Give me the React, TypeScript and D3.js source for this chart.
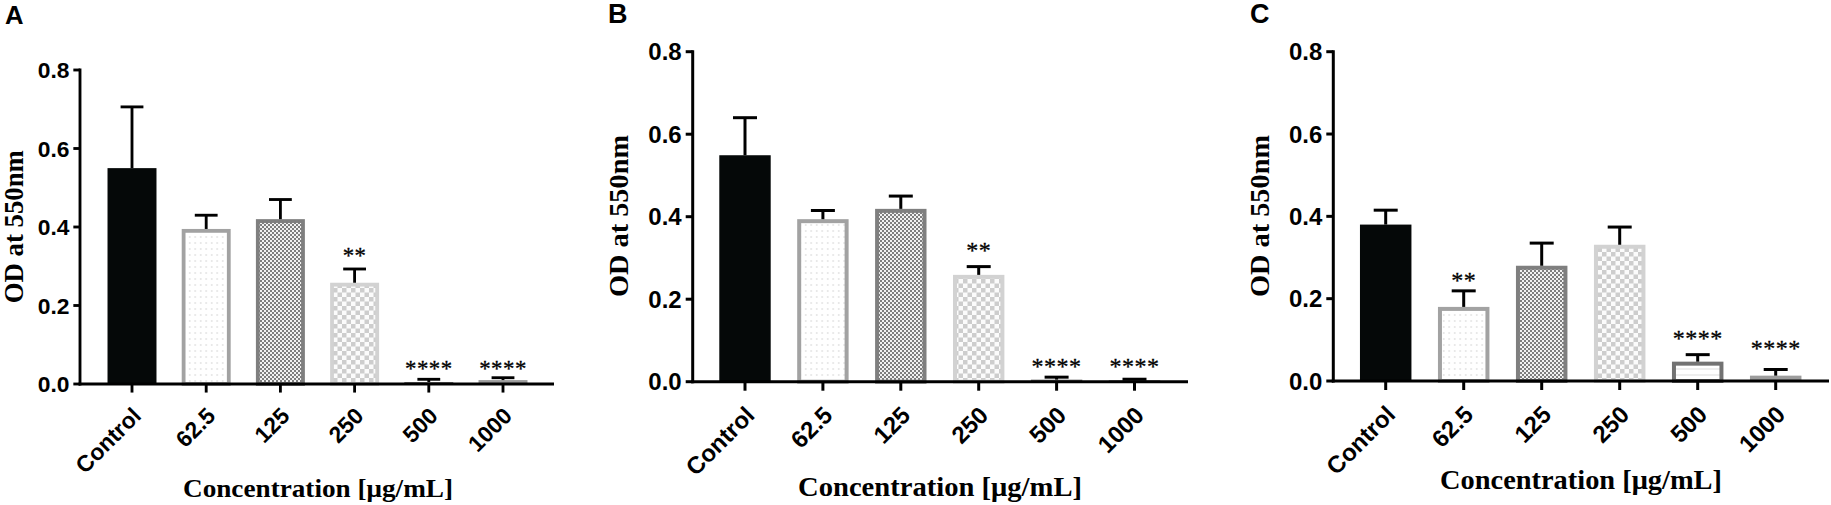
import React from "react";
import * as d3 from "d3";

const categories = ["Control", "62.5", "125", "250", "500", "1000"];
const yTickValues = [0, 0.2, 0.4, 0.6, 0.8];
const panelLetters = ["A", "B", "C"];

const meansA = [0.55, 0.395, 0.42, 0.258, 0.005, 0.01];
const errorsA = [0.156, 0.035, 0.05, 0.035, 0.007, 0.006];
const starsA = ["", "", "", "**", "****", "****"];
const starHeightsA = [0, 0, 0, 0.334, 0.047, 0.047];

const meansB = [0.549, 0.394, 0.419, 0.259, 0.005, 0.004];
const errorsB = [0.091, 0.021, 0.031, 0.02, 0.006, 0.002];
const starsB = ["", "", "", "**", "****", "****"];
const starHeightsB = [0, 0, 0, 0.327, 0.045, 0.045];

const meansC = [0.38, 0.18, 0.28, 0.331, 0.047, 0.013];
const errorsC = [0.035, 0.039, 0.055, 0.043, 0.017, 0.015];
const starsC = ["", "**", "", "", "****", "****"];
const starHeightsC = [0, 0.253, 0, 0, 0.112, 0.087];

const yTitle = "OD at 550nm";
const xTitle = "Concentration [μg/mL]";

const layouts = [
  { axisX: 80, axisEnd: 554, y0: 384, yTop: 70, tick0: 132, tick1: 503, s: 0.951, labelX: 5, labelY: 24, yTitleX: 23, yTitleY: 226.7, yTitleLen: 153, xTitleX: 318, xTitleY: 497, xTitleLen: 270 },
  { axisX: 692.7, axisEnd: 1188, y0: 381.7, yTop: 51.7, tick0: 745, tick1: 1134.5, s: 1, labelX: 608, labelY: 23, yTitleX: 628, yTitleY: 216, yTitleLen: 162, xTitleX: 940, xTitleY: 496, xTitleLen: 284 },
  { axisX: 1333.3, axisEnd: 1829, y0: 381, yTop: 51.7, tick0: 1385.7, tick1: 1775.7, s: 1, labelX: 1250, labelY: 23, yTitleX: 1269, yTitleY: 216, yTitleLen: 162, xTitleX: 1581, xTitleY: 489, xTitleLen: 282 },
];

const barStyles = [
  { fill: "#050808", stroke: "none" },
  { fill: "url(#pDots)", stroke: "#a2a2a2" },
  { fill: "url(#pFine)", stroke: "#7f7f7f" },
  { fill: "url(#pCoarse)", stroke: "#d2d2d2" },
  { fill: "url(#pLines)", stroke: "#727272" },
  { fill: "#9c9c9c", stroke: "#9c9c9c" },
];

const SANS = "'Liberation Sans', Arial, Helvetica, sans-serif";
const SERIF = "'Liberation Serif', 'Times New Roman', serif";

type PanelProps = {
  letter: string;
  means: number[];
  errors: number[];
  stars: string[];
  starHeights: number[];
  L: any;
};

function Panel({ letter, means, errors, stars, starHeights, L }: PanelProps) {
  const s = L.s;
  const y = d3.scaleLinear().domain([0, 0.8]).range([L.y0, L.yTop]);
  const x = d3.scalePoint<string>().domain(categories).range([L.tick0, L.tick1]);
  const step = x.step();
  const bw = step * 0.66;
  const sw = 4 * s;
  const fmt = d3.format(".1f");
  const capHalf = 12 * s;

  return (
    <g>
      <text x={L.labelX} y={L.labelY} fontFamily={SANS} fontWeight="bold" fontSize={27 * s}>
        {letter}
      </text>

      {categories.map((c, i) => {
        const cx = x(c) as number;
        const top = y(means[i]);
        const h = L.y0 - top;
        const st = barStyles[i];
        if (st.stroke === "none") {
          return <rect key={c} x={cx - bw / 2} y={top} width={bw} height={h} fill={st.fill} />;
        }
        if (h <= sw * 1.5) {
          return <rect key={c} x={cx - bw / 2} y={top} width={bw} height={Math.max(h, 2)} fill={st.stroke} />;
        }
        return (
          <rect
            key={c}
            x={cx - bw / 2 + sw / 2}
            y={top + sw / 2}
            width={bw - sw}
            height={h - sw / 2}
            fill={st.fill}
            stroke={st.stroke}
            strokeWidth={sw}
          />
        );
      })}

      {categories.map((c, i) => {
        const cx = x(c) as number;
        const top = y(means[i]);
        const et = y(means[i] + errors[i]);
        return (
          <g key={"e" + c} stroke="#000" strokeWidth={3 * s}>
            <line x1={cx} x2={cx} y1={top} y2={et} />
            <line x1={cx - capHalf} x2={cx + capHalf} y1={et} y2={et} />
          </g>
        );
      })}

      {categories.map((c, i) =>
        stars[i] ? (
          <text
            key={"s" + c}
            x={x(c) as number}
            y={y(starHeights[i]) + 11 * s}
            textAnchor="middle"
            fontFamily={SERIF}
            fontSize={24 * s}
            letterSpacing={0.5 * s}
            stroke="#000"
            strokeWidth={0.3}
          >
            {stars[i]}
          </text>
        ) : null
      )}

      {/* y axis */}
      <line x1={L.axisX} x2={L.axisX} y1={L.y0 + 1.5 * s} y2={L.yTop - 1.5 * s} stroke="#000" strokeWidth={3 * s} />
      {yTickValues.map((v) => (
        <g key={"yt" + v}>
          <line x1={L.axisX - 7 * s} x2={L.axisX} y1={y(v)} y2={y(v)} stroke="#000" strokeWidth={3 * s} />
          <text
            x={L.axisX - 11 * s}
            y={y(v)}
            dy="0.36em"
            textAnchor="end"
            fontFamily={SANS}
            fontWeight="bold"
            fontSize={24 * s}
          >
            {fmt(v)}
          </text>
        </g>
      ))}

      {/* x axis */}
      <line x1={L.axisX - 1.5 * s} x2={L.axisEnd} y1={L.y0} y2={L.y0} stroke="#000" strokeWidth={3 * s} />
      {categories.map((c) => {
        const cx = x(c) as number;
        return (
          <g key={"xt" + c}>
            <line x1={cx} x2={cx} y1={L.y0} y2={L.y0 + 9 * s} stroke="#000" strokeWidth={3 * s} />
            <text
              transform={`translate(${cx + 11 * s},${L.y0 + 35 * s}) rotate(-45)`}
              textAnchor="end"
              fontFamily={SANS}
              fontWeight="bold"
              fontSize={24 * s}
            >
              {c}
            </text>
          </g>
        );
      })}

      <text
        transform={`translate(${L.yTitleX},${L.yTitleY}) rotate(-90)`}
        textAnchor="middle"
        fontFamily={SERIF}
        fontWeight="bold"
        fontSize={28 * s}
        textLength={L.yTitleLen}
        lengthAdjust="spacingAndGlyphs"
      >
        {yTitle}
      </text>

      <text
        x={L.xTitleX}
        y={L.xTitleY}
        textAnchor="middle"
        fontFamily={SERIF}
        fontWeight="bold"
        fontSize={27 * s}
        textLength={L.xTitleLen}
        lengthAdjust="spacingAndGlyphs"
      >
        {xTitle}
      </text>
    </g>
  );
}

export default function App() {
  const data = [
    { means: meansA, errors: errorsA, stars: starsA, starHeights: starHeightsA },
    { means: meansB, errors: errorsB, stars: starsB, starHeights: starHeightsB },
    { means: meansC, errors: errorsC, stars: starsC, starHeights: starHeightsC },
  ];
  return (
    <svg
      width={1831}
      height={505}
      viewBox="0 0 1831 505"
      style={{ position: "absolute", left: 0, top: 0, background: "#fff" }}
    >
      <defs>
        <pattern id="pDots" patternUnits="userSpaceOnUse" width={5.5} height={6}>
          <rect width={5.5} height={6} fill="#fff" />
          <rect x={2.2} y={2.5} width={1} height={1} fill="#b0b0b0" />
        </pattern>
        <pattern id="pFine" patternUnits="userSpaceOnUse" width={4} height={4}>
          <rect width={4} height={4} fill="#f2f2f2" />
          <rect x={0} y={0} width={2} height={2} fill="#7e7e7e" />
          <rect x={2} y={2} width={2} height={2} fill="#7e7e7e" />
        </pattern>
        <pattern id="pCoarse" patternUnits="userSpaceOnUse" width={9} height={9}>
          <rect width={9} height={9} fill="#fbfbfb" />
          <rect x={0} y={0} width={4.5} height={4.5} fill="#cdcdcd" />
          <rect x={4.5} y={4.5} width={4.5} height={4.5} fill="#cdcdcd" />
        </pattern>
        <pattern id="pLines" patternUnits="userSpaceOnUse" width={6} height={6}>
          <rect width={6} height={6} fill="#fff" />
          <rect x={0} y={2.5} width={6} height={1} fill="#dedede" />
        </pattern>
      </defs>
      {layouts.map((L, i) => (
        <Panel key={panelLetters[i]} letter={panelLetters[i]} L={L} {...data[i]} />
      ))}
    </svg>
  );
}
